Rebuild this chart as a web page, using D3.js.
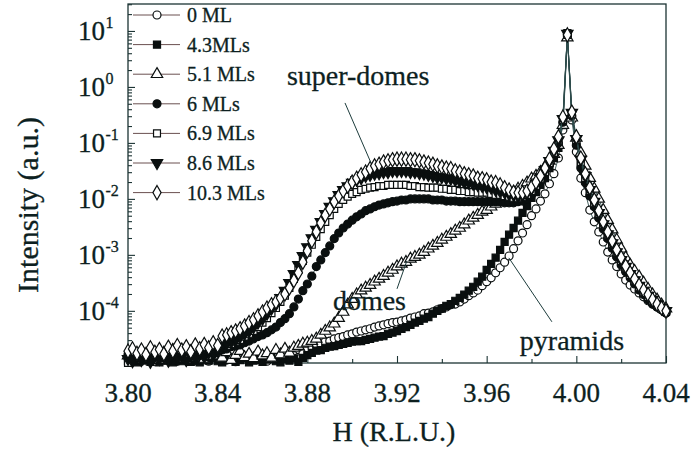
<!DOCTYPE html>
<html>
<head>
<meta charset="utf-8">
<script src="https://d3js.org/d3.v7.min.js"></script>
<style>
  body { margin: 0; background: #fff; }
  svg text { font-family: "Liberation Serif", "Times New Roman", serif; fill: #0d1f1f; stroke: #0d1f1f; stroke-width: 0.3px; }
</style>
</head>
<body>
<div id="main"></div>
<script>
// scan grid in H (r.l.u.), one point every 0.002 from 3.80 to 4.04
var hStart = 3.80, hStep = 0.002, nPoints = 121;

// log10 of the intensity (a.u.), one value per grid point
var ml0 = [-4.85,-4.88,-4.80,-4.90,-4.86,-4.83,-4.91,-4.84,-4.88,-4.79,-4.87,-4.90,-4.82,-4.86,-4.89,-4.81,-4.87,-4.84,-4.90,-4.83,
  -4.86,-4.80,-4.88,-4.85,-4.91,-4.82,-4.86,-4.89,-4.83,-4.87,-4.84,-4.90,-4.85,-4.81,-4.88,-4.84,-4.86,-4.80,-4.83,-4.77,
  -4.66,-4.64,-4.61,-4.59,-4.55,-4.54,-4.50,-4.48,-4.46,-4.43,-4.41,-4.38,-4.36,-4.34,-4.32,-4.29,-4.27,-4.25,-4.23,-4.21,
  -4.20,-4.18,-4.16,-4.13,-4.11,-4.09,-4.05,-4.04,-4.02,-3.98,-3.96,-3.93,-3.89,-3.88,-3.84,-3.79,-3.73,-3.68,-3.63,-3.55,
  -3.48,-3.41,-3.32,-3.23,-3.13,-3.02,-2.89,-2.75,-2.61,-2.46,-2.30,-2.18,-2.04,-1.91,-1.73,-1.55,-1.27,-0.77,0.91,-0.59,
  -1.16,-1.63,-1.89,-2.20,-2.41,-2.59,-2.77,-2.95,-3.09,-3.21,-3.34,-3.45,-3.54,-3.61,-3.68,-3.75,-3.82,-3.88,-3.93,-3.98,-4.04];

var ml43 = [-4.90,-4.86,-4.92,-4.88,-4.84,-4.91,-4.87,-4.92,-4.85,-4.89,-4.92,-4.86,-4.90,-4.84,-4.91,-4.88,-4.92,-4.86,-4.89,-4.83,
  -4.90,-4.92,-4.87,-4.85,-4.91,-4.88,-4.84,-4.92,-4.89,-4.86,-4.91,-4.87,-4.83,-4.90,-4.92,-4.86,-4.89,-4.85,-4.91,-4.84,
  -4.79,-4.75,-4.71,-4.70,-4.66,-4.64,-4.63,-4.61,-4.59,-4.57,-4.55,-4.54,-4.54,-4.52,-4.50,-4.48,-4.46,-4.45,-4.41,-4.39,
  -4.36,-4.32,-4.29,-4.25,-4.21,-4.18,-4.14,-4.11,-4.05,-4.00,-3.96,-3.91,-3.88,-3.82,-3.77,-3.71,-3.64,-3.57,-3.48,-3.39,
  -3.27,-3.16,-3.05,-2.91,-2.77,-2.64,-2.52,-2.39,-2.25,-2.13,-1.98,-1.88,-1.75,-1.63,-1.45,-1.27,-1.09,-0.68,0.96,-0.50,
  -0.98,-1.36,-1.66,-1.89,-2.11,-2.30,-2.50,-2.68,-2.84,-3.00,-3.13,-3.25,-3.36,-3.46,-3.57,-3.66,-3.75,-3.82,-3.89,-3.96,-4.02];

var ml51 = [-4.80,-4.74,-4.86,-4.78,-4.83,-4.72,-4.88,-4.79,-4.75,-4.85,-4.70,-4.81,-4.77,-4.87,-4.73,-4.82,-4.78,-4.86,-4.71,-4.80,
  -4.76,-4.84,-4.74,-4.88,-4.79,-4.72,-4.83,-4.77,-4.85,-4.73,-4.80,-4.76,-4.84,-4.70,-4.78,-4.68,-4.75,-4.66,-4.63,-4.59,
  -4.57,-4.54,-4.50,-4.43,-4.36,-4.30,-4.23,-4.13,-4.02,-3.89,-3.79,-3.71,-3.64,-3.59,-3.54,-3.48,-3.43,-3.38,-3.32,-3.27,
  -3.21,-3.16,-3.13,-3.07,-3.04,-3.00,-2.95,-2.89,-2.84,-2.79,-2.73,-2.68,-2.63,-2.57,-2.52,-2.46,-2.39,-2.34,-2.29,-2.23,
  -2.20,-2.14,-2.09,-2.04,-1.98,-1.93,-1.88,-1.82,-1.77,-1.71,-1.64,-1.59,-1.52,-1.43,-1.32,-1.20,-1.04,-0.68,0.88,-0.55,
  -0.91,-1.18,-1.41,-1.63,-1.82,-2.00,-2.20,-2.38,-2.55,-2.73,-2.89,-3.05,-3.18,-3.29,-3.39,-3.50,-3.61,-3.71,-3.80,-3.89,-3.96];

var ml6 = [-4.78,-4.84,-4.88,-4.80,-4.86,-4.90,-4.82,-4.87,-4.79,-4.85,-4.89,-4.81,-4.86,-4.78,-4.84,-4.88,-4.80,-4.75,-4.83,-4.77,
  -4.72,-4.70,-4.68,-4.64,-4.63,-4.61,-4.57,-4.54,-4.50,-4.46,-4.43,-4.39,-4.34,-4.29,-4.21,-4.14,-4.05,-3.93,-3.79,-3.64,
  -3.52,-3.38,-3.21,-3.09,-2.96,-2.84,-2.71,-2.61,-2.52,-2.45,-2.38,-2.32,-2.27,-2.21,-2.18,-2.14,-2.11,-2.09,-2.07,-2.05,
  -2.04,-2.02,-2.02,-2.00,-2.00,-2.00,-2.00,-2.00,-2.02,-2.02,-2.02,-2.04,-2.04,-2.04,-2.05,-2.05,-2.05,-2.05,-2.05,-2.05,
  -2.05,-2.05,-2.05,-2.05,-2.07,-2.07,-2.07,-2.05,-2.04,-2.00,-1.93,-1.82,-1.70,-1.55,-1.39,-1.21,-1.00,-0.63,0.95,-0.52,
  -1.04,-1.45,-1.71,-1.95,-2.14,-2.34,-2.54,-2.71,-2.88,-3.04,-3.18,-3.30,-3.41,-3.52,-3.63,-3.71,-3.80,-3.88,-3.93,-3.98,-4.04];

var ml69 = [-4.93,-4.83,-4.78,-4.87,-4.81,-4.76,-4.85,-4.79,-4.88,-4.74,-4.82,-4.77,-4.86,-4.80,-4.73,-4.84,-4.78,-4.71,-4.80,-4.74,
  -4.69,-4.64,-4.63,-4.59,-4.55,-4.52,-4.46,-4.41,-4.36,-4.29,-4.21,-4.13,-4.04,-3.95,-3.84,-3.73,-3.59,-3.43,-3.27,-3.11,
  -2.96,-2.82,-2.68,-2.54,-2.41,-2.29,-2.18,-2.09,-2.02,-1.96,-1.91,-1.88,-1.84,-1.82,-1.80,-1.79,-1.77,-1.77,-1.75,-1.75,
  -1.75,-1.75,-1.75,-1.77,-1.77,-1.79,-1.79,-1.80,-1.80,-1.80,-1.82,-1.82,-1.84,-1.84,-1.86,-1.86,-1.88,-1.88,-1.89,-1.89,
  -1.89,-1.91,-1.93,-1.93,-1.95,-1.96,-1.98,-1.98,-1.96,-1.93,-1.86,-1.77,-1.64,-1.52,-1.36,-1.18,-0.96,-0.59,0.93,-0.48,
  -0.95,-1.34,-1.63,-1.86,-2.07,-2.27,-2.46,-2.64,-2.80,-2.96,-3.11,-3.23,-3.36,-3.46,-3.57,-3.66,-3.75,-3.82,-3.89,-3.96,-4.02];

var ml86 = [-4.86,-4.90,-4.82,-4.88,-4.84,-4.91,-4.80,-4.86,-4.83,-4.89,-4.78,-4.85,-4.82,-4.88,-4.79,-4.84,-4.76,-4.82,-4.74,-4.78,
  -4.70,-4.63,-4.59,-4.55,-4.52,-4.46,-4.41,-4.36,-4.29,-4.21,-4.14,-4.05,-3.96,-3.88,-3.77,-3.64,-3.50,-3.34,-3.18,-3.02,
  -2.86,-2.70,-2.55,-2.41,-2.27,-2.14,-2.04,-1.93,-1.84,-1.77,-1.71,-1.66,-1.63,-1.59,-1.57,-1.55,-1.54,-1.52,-1.52,-1.50,
  -1.50,-1.50,-1.50,-1.52,-1.52,-1.54,-1.55,-1.57,-1.59,-1.61,-1.61,-1.63,-1.64,-1.66,-1.68,-1.70,-1.71,-1.73,-1.75,-1.77,
  -1.79,-1.80,-1.84,-1.86,-1.88,-1.91,-1.93,-1.95,-1.93,-1.89,-1.82,-1.73,-1.61,-1.48,-1.32,-1.14,-0.95,-0.57,0.95,-0.46,
  -0.93,-1.30,-1.59,-1.84,-2.05,-2.25,-2.45,-2.63,-2.79,-2.95,-3.09,-3.21,-3.34,-3.45,-3.55,-3.64,-3.73,-3.80,-3.88,-3.95,-4.00];

var ml103 = [-4.72,-4.68,-4.76,-4.70,-4.78,-4.66,-4.74,-4.69,-4.77,-4.65,-4.72,-4.62,-4.70,-4.64,-4.73,-4.61,-4.68,-4.60,-4.66,-4.57,
  -4.62,-4.45,-4.43,-4.39,-4.36,-4.32,-4.27,-4.21,-4.16,-4.09,-4.02,-3.95,-3.89,-3.84,-3.77,-3.70,-3.59,-3.46,-3.32,-3.13,
  -2.93,-2.75,-2.59,-2.43,-2.29,-2.18,-2.05,-1.95,-1.86,-1.77,-1.70,-1.63,-1.57,-1.52,-1.46,-1.41,-1.38,-1.34,-1.32,-1.30,
  -1.29,-1.29,-1.29,-1.30,-1.30,-1.32,-1.34,-1.36,-1.38,-1.41,-1.43,-1.45,-1.46,-1.50,-1.52,-1.55,-1.57,-1.59,-1.63,-1.64,
  -1.66,-1.70,-1.71,-1.75,-1.80,-1.84,-1.88,-1.89,-1.89,-1.86,-1.79,-1.70,-1.59,-1.45,-1.29,-1.11,-0.89,-0.54,0.93,-0.45,
  -0.89,-1.27,-1.55,-1.80,-2.02,-2.21,-2.41,-2.59,-2.75,-2.91,-3.05,-3.20,-3.32,-3.43,-3.54,-3.63,-3.71,-3.80,-3.88,-3.95,-4.00];

var seriesNames = ["0 ML", "4.3MLs", "5.1 MLs", "6 MLs", "6.9 MLs", "8.6 MLs", "10.3 MLs"];
var xTickValues = [3.80, 3.84, 3.88, 3.92, 3.96, 4.00, 4.04];
var yTickExponents = [-4, -3, -2, -1, 0, 1];

var ctx = {
    w: 695,
    h: 450,
    left: 128, right: 666, top: 4, bottom: 363,
    ink: "#0a0f0f",
    axis: "#1c3434",
    lineColor: "#2e4c4c",
};

// marker per series, same order as seriesNames
var markers = [
    {type: d3.symbolCircle,   filled: false, size: 50},
    {type: d3.symbolSquare,   filled: true,  size: 50},
    {type: d3.symbolTriangle, filled: false, size: 56},
    {type: d3.symbolCircle,   filled: true,  size: 50},
    {type: d3.symbolSquare,   filled: false, size: 48},
    {type: d3.symbolTriangle, filled: true,  size: 56, rotate: 180},
    {type: d3.symbolDiamond,  filled: false, size: 58},
];

var createViz = function(){
    var svg = d3.select("#main").append("svg")
        .attr("width", ctx.w).attr("height", ctx.h);

    var x = d3.scaleLinear().domain([3.80, 4.04]).range([ctx.left, ctx.right]);
    var y = d3.scaleLog().domain([1.17e-5, 30.3]).range([ctx.bottom, ctx.top]);

    var allSeries = [ml0, ml43, ml51, ml6, ml69, ml86, ml103].map(function(vals){
        return vals.map(function(v, i){ return {h: hStart + i * hStep, v: Math.pow(10, v)}; });
    });

    // x axis, ticks pointing in
    var minorX = d3.range(0, 12).map(function(i){ return 3.82 + i * 0.04; }).filter(function(d){ return d < 4.04; });
    svg.append("g").attr("transform", "translate(0," + ctx.bottom + ")")
        .call(d3.axisBottom(x).tickValues(xTickValues).tickSize(-7).tickFormat(""))
        .call(function(g){ g.select(".domain").remove(); });
    svg.append("g").attr("transform", "translate(0," + ctx.bottom + ")")
        .call(d3.axisBottom(x).tickValues(minorX).tickSize(-4).tickFormat(""))
        .call(function(g){ g.select(".domain").remove(); });

    svg.selectAll("text.xt").data(xTickValues).enter().append("text")
        .attr("class", "xt")
        .attr("x", function(d){ return x(d); })
        .attr("y", 402)
        .attr("text-anchor", "middle")
        .style("font-size", "27px")
        .text(function(d){ return d.toFixed(2); });

    // y axis, decades plus 2..9 minor ticks
    var minorY = [];
    for (var e = -5; e <= 1; e++) {
        for (var k = 2; k <= 9; k++) {
            var v = k * Math.pow(10, e);
            if (v > y.domain()[0] && v < y.domain()[1]) minorY.push(v);
        }
    }
    svg.append("g").attr("transform", "translate(" + ctx.left + ",0)")
        .call(d3.axisLeft(y).tickValues(yTickExponents.map(function(e){ return Math.pow(10, e); })).tickSize(-7).tickFormat(""))
        .call(function(g){ g.select(".domain").remove(); });
    svg.append("g").attr("transform", "translate(" + ctx.left + ",0)")
        .call(d3.axisLeft(y).tickValues(minorY).tickSize(-4).tickFormat(""))
        .call(function(g){ g.select(".domain").remove(); });
    svg.selectAll(".tick line").attr("stroke", ctx.axis).attr("stroke-width", 1.1);

    var yLab = svg.selectAll("g.yl").data(yTickExponents).enter().append("g")
        .attr("class", "yl")
        .attr("transform", function(d){ return "translate(0," + y(Math.pow(10, d)) + ")"; });
    yLab.append("text").attr("x", 105).attr("y", 9)
        .attr("text-anchor", "end").style("font-size", "27px").text("10");
    yLab.append("text").attr("x", 105.5).attr("y", -3)
        .style("font-size", "16px").text(function(d){ return String(d); });

    // frame
    svg.append("rect")
        .attr("x", ctx.left).attr("y", ctx.top)
        .attr("width", ctx.right - ctx.left).attr("height", ctx.bottom - ctx.top)
        .attr("fill", "none").attr("stroke", ctx.axis).attr("stroke-width", 1.3);

    // axis titles
    svg.append("text").attr("x", 394).attr("y", 441)
        .attr("text-anchor", "middle").style("font-size", "28px").text("H (R.L.U.)");
    svg.append("text")
        .attr("transform", "translate(38,205) rotate(-90)")
        .attr("text-anchor", "middle").style("font-size", "30px").text("Intensity (a.u.)");

    // curves
    var line = d3.line()
        .x(function(d){ return x(d.h); })
        .y(function(d){ return y(d.v); });

    allSeries.forEach(function(data, s){
        var m = markers[s];
        var sym = d3.symbol().type(m.type).size(m.size);
        var g = svg.append("g").attr("class", "series");
        g.append("path").datum(data)
            .attr("d", line)
            .attr("fill", "none")
            .attr("stroke", ctx.lineColor)
            .attr("stroke-width", 0.9);
        g.selectAll("path.pt").data(data).enter().append("path")
            .attr("class", "pt")
            .attr("d", sym)
            .attr("transform", function(d){
                return "translate(" + x(d.h) + "," + y(d.v) + ")" + (m.rotate ? " rotate(" + m.rotate + ")" : "");
            })
            .attr("fill", m.filled ? ctx.ink : "#fff")
            .attr("stroke", ctx.ink)
            .attr("stroke-width", 1.2);
    });

    // legend
    var leg = svg.selectAll("g.leg").data(seriesNames).enter().append("g")
        .attr("class", "leg")
        .attr("transform", function(d, i){ return "translate(0," + (15 + i * 29.6) + ")"; });
    leg.append("line").attr("x1", 133).attr("x2", 180)
        .attr("stroke", "#6a5050").attr("stroke-width", 1);
    leg.append("path")
        .attr("d", function(d, i){ return d3.symbol().type(markers[i].type).size(markers[i].size)(); })
        .attr("transform", function(d, i){ return "translate(157,0)" + (markers[i].rotate ? " rotate(180)" : ""); })
        .attr("fill", function(d, i){ return markers[i].filled ? ctx.ink : "#fff"; })
        .attr("stroke", ctx.ink)
        .attr("stroke-width", 1.2);
    leg.append("text").attr("x", 187).attr("y", 7)
        .style("font-size", "20px").text(function(d){ return d; });

    // annotations, anchored in data units (H, log10 I)
    var notes = [
        {text: "super-domes", tx: 3.8709, ty: 0.036, l: [[3.8968, -0.286], [3.9084, -1.357]]},
        {text: "domes",       tx: 3.8914, ty: -3.982, l: [[3.9200, -3.607], [3.9244, -3.107]]},
        {text: "pyramids",    tx: 3.9748, ty: -4.696, l: [[3.9699, -3.054], [3.9891, -4.196]]},
    ];
    notes.forEach(function(n){
        svg.append("line")
            .attr("x1", x(n.l[0][0])).attr("y1", y(Math.pow(10, n.l[0][1])))
            .attr("x2", x(n.l[1][0])).attr("y2", y(Math.pow(10, n.l[1][1])))
            .attr("stroke", "#1d3c3c").attr("stroke-width", 1);
        svg.append("text")
            .attr("x", x(n.tx)).attr("y", y(Math.pow(10, n.ty)))
            .style("font-size", "28px").text(n.text);
    });
};

createViz();
</script>
</body>
</html>
